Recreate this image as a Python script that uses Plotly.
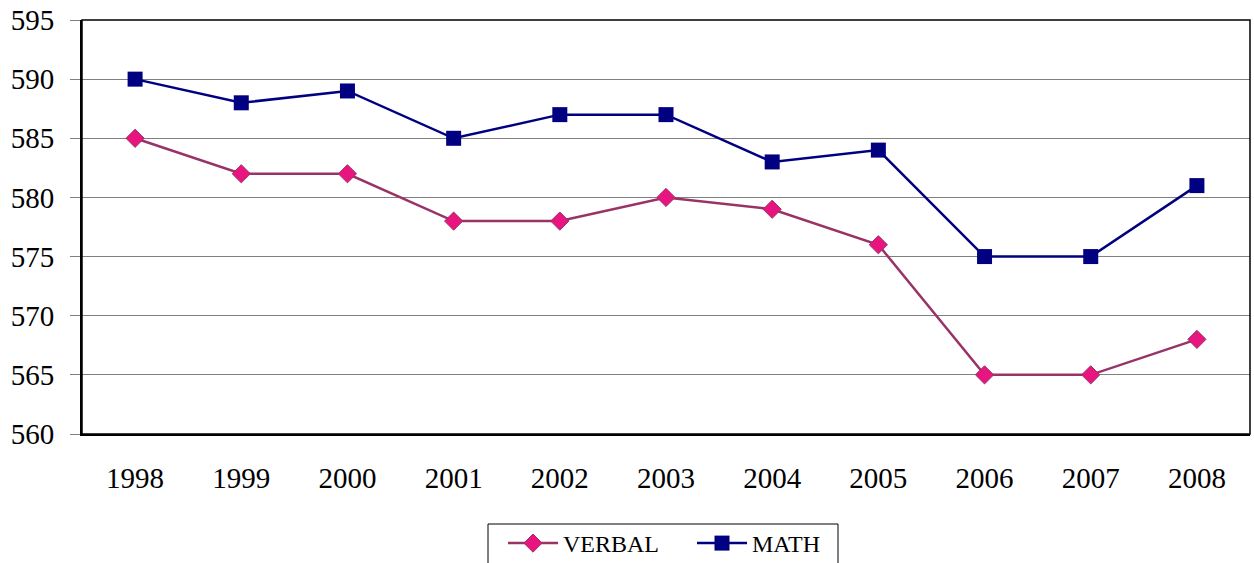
import plotly.graph_objects as go

years = ["1998", "1999", "2000", "2001", "2002", "2003", "2004", "2005", "2006", "2007", "2008"]
verbal = [585, 582, 582, 578, 578, 580, 579, 576, 565, 565, 568]
math = [590, 588, 589, 585, 587, 587, 583, 584, 575, 575, 581]

W, H = 1254, 563
PL, PR, PT, PB = 82, 1250, 20, 434  # plot area in px

fig = go.Figure()
fig.add_trace(go.Scatter(
    x=years, y=verbal, name="VERBAL", mode="lines+markers",
    line=dict(color="#993366", width=2.5),
    marker=dict(symbol="diamond", size=14, color="#E8147F", line=dict(color="#993366", width=1)),
))
fig.add_trace(go.Scatter(
    x=years, y=math, name="MATH", mode="lines+markers",
    line=dict(color="#000080", width=2.5),
    marker=dict(symbol="square", size=15, color="#000080", line=dict(color="#000080", width=0)),
))

fig.update_layout(
    width=W, height=H,
    margin=dict(l=PL, r=W - PR, t=PT, b=H - PB, autoexpand=False),
    paper_bgcolor="white", plot_bgcolor="white",
    font=dict(family="Liberation Serif, Times New Roman, serif", color="black"),
    showlegend=True,
    legend=dict(
        orientation="h", x=503 / W, xanchor="left", xref="container",
        y=1 - 521 / H, yanchor="top", yref="container",
        borderwidth=0, bgcolor="rgba(0,0,0,0)", font=dict(size=24),
        itemwidth=50, entrywidth=124, traceorder="normal",
    ),
    xaxis=dict(
        type="category", range=[-0.5, 10.5], showgrid=False, automargin=False,
        tickfont=dict(size=29), ticks="", ticklabelstandoff=17,
        showline=True, linecolor="black", linewidth=2, mirror=False,
    ),
    yaxis=dict(
        range=[560, 595], dtick=5, tick0=560, automargin=False,
        showgrid=True, gridcolor="#808080", gridwidth=1,
        tickfont=dict(size=29), ticks="outside", ticklen=10, tickcolor="#808080",
        ticklabelstandoff=10, ticklabeloverflow="allow",
        showline=True, linecolor="black", linewidth=2,
        zeroline=False,
    ),
)
fig.add_shape(type="rect", xref="paper", yref="paper", x0=0, x1=1, y0=0, y1=1,
              line=dict(color="black", width=1.5), layer="above")
# legend frame (extends past the bottom edge, as in the reference)
pw, ph = PR - PL, PB - PT
fig.add_shape(type="rect", xref="paper", yref="paper",
              x0=(488 - PL) / pw, x1=(838 - PL) / pw,
              y0=(PB - 524) / ph, y1=(PB - 600) / ph,
              line=dict(color="black", width=1), fillcolor="rgba(0,0,0,0)", layer="below")

fig.write_html("out.html", config={"displayModeBar": False},
               post_script="document.body.style.margin='0';document.body.style.overflow='hidden';")
